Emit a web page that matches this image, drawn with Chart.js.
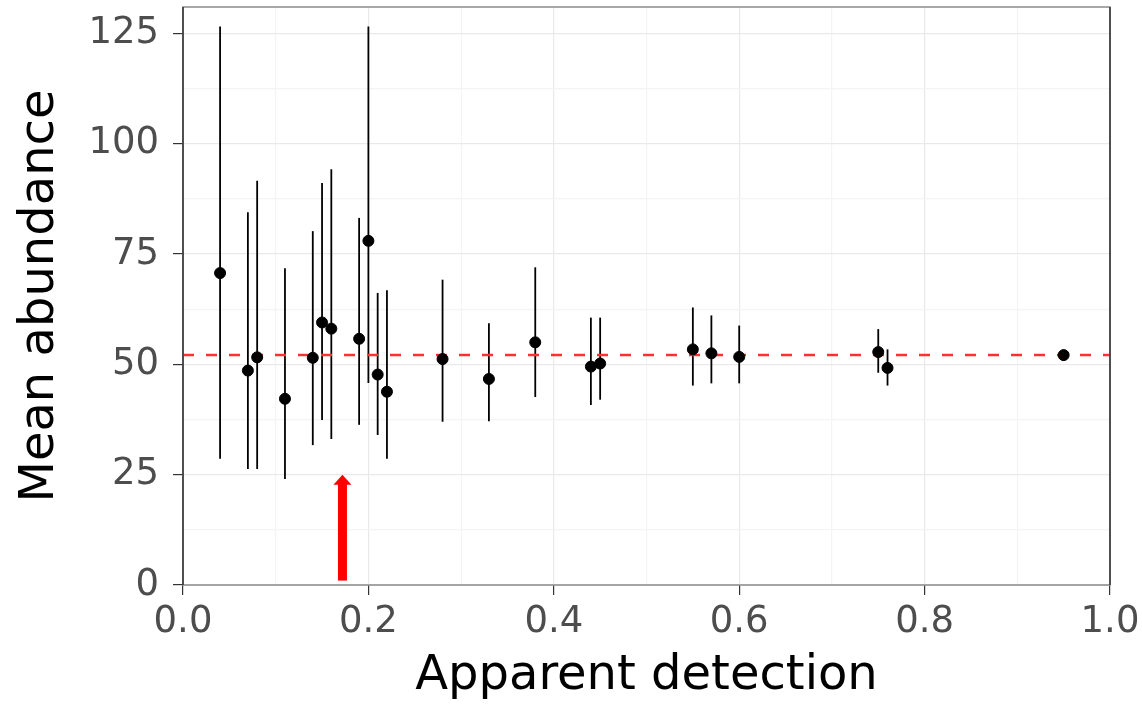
<!DOCTYPE html>
<html>
<head>
<meta charset="utf-8">
<script src="https://cdn.jsdelivr.net/npm/chart.js@4"></script>
<style>
  html, body { margin: 0; padding: 0; background: #fff; }
  #chart { display: block; }
</style>
</head>
<body>
<canvas id="chart" width="1142" height="713"></canvas>
<script>
// values
const detection = [0.04, 0.07, 0.08, 0.11, 0.14, 0.15, 0.16, 0.19, 0.20, 0.21, 0.22, 0.28, 0.33, 0.38, 0.44, 0.45, 0.55, 0.57, 0.60, 0.75, 0.76, 0.95];
const abundance = [70.7, 48.6, 51.6, 42.2, 51.5, 59.5, 58.1, 55.8, 78.0, 47.7, 43.8, 51.2, 46.7, 55.0, 49.5, 50.2, 53.4, 52.5, 51.7, 52.8, 49.2, 52.1];
const upper = [126.6, 84.5, 91.6, 71.8, 80.2, 91.1, 94.2, 83.2, 126.6, 66.2, 66.8, 69.2, 59.3, 72.0, 60.6, 60.6, 62.9, 61.1, 58.8, 58.0, 53.4, 53.3];
const lower = [28.6, 26.3, 26.3, 24.0, 31.7, 37.4, 33.1, 36.3, 45.8, 34.0, 28.6, 37.0, 37.1, 42.6, 40.8, 42.0, 45.2, 45.7, 45.7, 48.1, 45.2, 50.8];
const overallMean = 52.1;
const xTickLabels = [0.0, 0.2, 0.4, 0.6, 0.8, 1.0];
const yTickLabels = [0, 25, 50, 75, 100, 125];
const arrowAt = { x: 0.172, from: 1, to: 25 };

// major ticks plus a minor one halfway between each pair
function withMinor(major) {
    const out = [];
    major.forEach((v, i) => {
        out.push({ value: v });
        if (i < major.length - 1) out.push({ value: (v + major[i + 1]) / 2, minor: true });
    });
    return out;
}

const errorBars = {
    id: "errorBars",
    beforeDatasetsDraw(chart) {
        const { ctx, scales: { x, y } } = chart;
        ctx.save();
        ctx.strokeStyle = "#000";
        ctx.lineWidth = 1.8;
        detection.forEach((d, i) => {
            const px = x.getPixelForValue(d);
            ctx.beginPath();
            ctx.moveTo(px, y.getPixelForValue(lower[i]));
            ctx.lineTo(px, y.getPixelForValue(upper[i]));
            ctx.stroke();
        });
        ctx.restore();
    },
    afterDatasetsDraw(chart) {
        // red arrow pointing up
        const { ctx, scales: { x, y } } = chart;
        const px = x.getPixelForValue(arrowAt.x);
        const y0 = y.getPixelForValue(arrowAt.from);
        const y1 = y.getPixelForValue(arrowAt.to);
        ctx.save();
        ctx.fillStyle = "#ff0000";
        ctx.fillRect(px - 4.5, y1 + 9, 9, y0 - y1 - 9);
        ctx.beginPath();
        ctx.moveTo(px - 9, y1 + 10);
        ctx.lineTo(px, y1);
        ctx.lineTo(px + 9, y1 + 10);
        ctx.closePath();
        ctx.fill();
        ctx.restore();
    },
    afterDraw(chart) {
        const { ctx, chartArea: a } = chart;
        ctx.save();
        ctx.strokeStyle = "#8c8c8c";
        ctx.lineWidth = 1.5;
        ctx.strokeRect(a.left, a.top, a.right - a.left, a.bottom - a.top);
        ctx.strokeStyle = "#333";
        ctx.beginPath();
        ctx.moveTo(a.left, a.top);
        ctx.lineTo(a.left, a.bottom);
        ctx.moveTo(a.right, a.top);
        ctx.lineTo(a.right, a.bottom);
        ctx.stroke();
        ctx.restore();
    }
};

const tickFont = { family: "DejaVu Sans", size: 37 };
const titleFont = { family: "DejaVu Sans", size: 48 };

new Chart(document.getElementById("chart"), {
    type: "scatter",
    data: {
        datasets: [
            {
                data: detection.map((d, i) => ({ x: d, y: abundance[i] })),
                backgroundColor: "#000",
                borderColor: "#000",
                pointRadius: 5.5,
                pointHoverRadius: 5.5
            },
            {
                type: "line",
                data: [{ x: 0, y: overallMean }, { x: 1, y: overallMean }],
                borderColor: "#ff3030",
                borderWidth: 2.5,
                borderDash: [11, 12],
                pointRadius: 0,
                fill: false
            }
        ]
    },
    options: {
        responsive: false,
        animation: false,
        layout: { padding: { top: 7, right: 32 } },
        plugins: { legend: { display: false }, tooltip: { enabled: false } },
        scales: {
            x: {
                type: "linear",
                min: 0,
                max: 1,
                afterBuildTicks: s => { s.ticks = withMinor(xTickLabels); },
                afterFit: s => { s.height = 128; s.paddingLeft = 0; s.paddingRight = 0; },
                border: { display: false },
                grid: {
                    color: c => c.tick && c.tick.minor ? "#f4f4f4" : "#e9e9e9",
                    lineWidth: 1.2,
                    tickColor: c => c.tick && c.tick.minor ? "rgba(0,0,0,0)" : "#333",
                    tickLength: 10
                },
                ticks: {
                    font: tickFont,
                    color: "#4d4d4d",
                    padding: 5,
                    maxRotation: 0,
                    autoSkip: false,
                    callback: (v, i, ticks) => ticks[i].minor ? "" : v.toFixed(1)
                },
                title: {
                    display: true,
                    text: "Apparent detection",
                    font: titleFont,
                    color: "#000",
                    padding: { top: 0, bottom: 8 }
                }
            },
            y: {
                min: 0,
                max: 131,
                afterBuildTicks: s => { s.ticks = withMinor(yTickLabels); },
                afterFit: s => { s.width = 183; s.paddingTop = 0; s.paddingBottom = 0; },
                border: { display: false },
                grid: {
                    color: c => c.tick && c.tick.minor ? "#f4f4f4" : "#e9e9e9",
                    lineWidth: 1.2,
                    tickColor: c => c.tick && c.tick.minor ? "rgba(0,0,0,0)" : "#333",
                    tickLength: 10
                },
                ticks: {
                    font: tickFont,
                    color: "#4d4d4d",
                    padding: 14,
                    autoSkip: false,
                    callback: (v, i, ticks) => ticks[i].minor ? "" : String(v)
                },
                title: {
                    display: true,
                    text: "Mean abundance",
                    font: titleFont,
                    color: "#000",
                    padding: { top: 12, bottom: 0 }
                }
            }
        }
    },
    plugins: [errorBars]
});
</script>
</body>
</html>
